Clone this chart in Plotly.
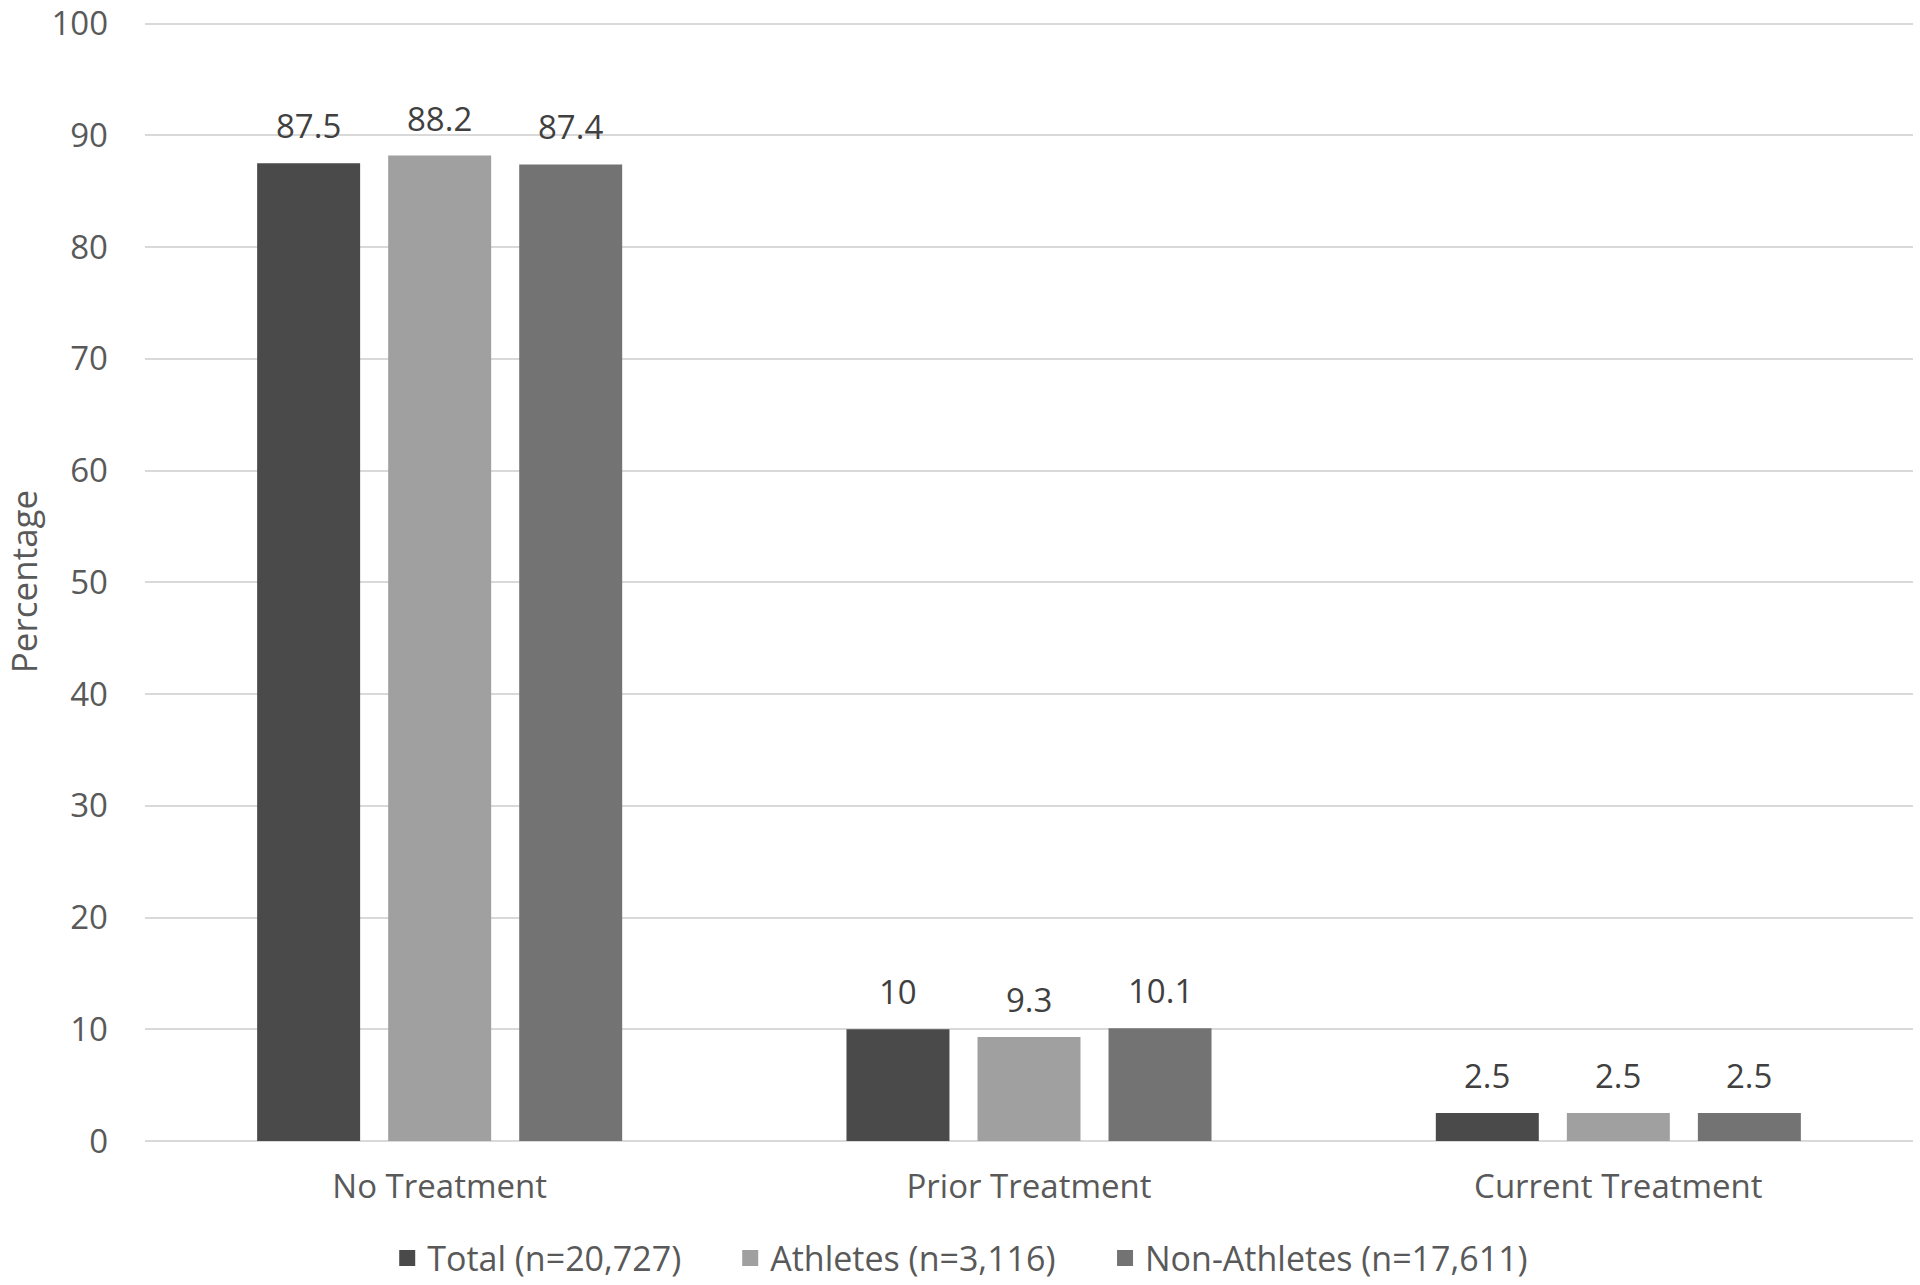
import plotly.graph_objects as go

categories = ["No Treatment", "Prior Treatment", "Current Treatment"]
series_names = ["Total (n=20,727)", "Athletes (n=3,116)", "Non-Athletes (n=17,611)"]
total = [87.5, 10, 2.5]
athletes = [88.2, 9.3, 2.5]
non_athletes = [87.4, 10.1, 2.5]
label_total = ["87.5", "10", "2.5"]
label_athletes = ["88.2", "9.3", "2.5"]
label_non = ["87.4", "10.1", "2.5"]
y_ticks = [0, 10, 20, 30, 40, 50, 60, 70, 80, 90, 100]

colors = ["#4a4a4a", "#a0a0a0", "#737373"]
FONT = "Open Sans"
W, H = 1920, 1285
ML, MR, MT, MB = 145, 7, 22, 144
BARGAP = 0.333
BARGROUPGAP = 0.214
legend_x = [0.137, 0.331, 0.543]

fig = go.Figure()
all_vals = [total, athletes, non_athletes]
all_labels = [label_total, label_athletes, label_non]
for name, vals, col in zip(series_names, all_vals, colors):
    fig.add_trace(go.Bar(x=categories, y=vals, name=name, showlegend=False,
                         marker=dict(color=col, line=dict(width=0))))
legend_ids = ["legend", "legend2", "legend3"]
for name, col, lid in zip(series_names, colors, legend_ids):
    fig.add_trace(go.Scatter(x=[None], y=[None], mode="markers", name=name, legend=lid,
                             marker=dict(symbol="square", size=16, color=col)))

plot_w = W - ML - MR
slot = plot_w / len(categories) * (1 - BARGAP) / len(series_names)
annotations = []
for i, (vals, labs) in enumerate(zip(all_vals, all_labels)):
    for c, v, t in zip(categories, vals, labs):
        annotations.append(dict(x=c, y=v, text=t, showarrow=False, xref="x", yref="y",
                                xshift=(i - 1) * slot, yanchor="bottom", yshift=13,
                                font=dict(family=FONT, size=33, color="#404040")))

legend_common = dict(orientation="h", xanchor="left", y=-0.105, yanchor="middle",
                     font=dict(family=FONT, size=34, color="#595959"), itemwidth=30,
                     bgcolor="rgba(0,0,0,0)")

fig.update_layout(
    width=W, height=H,
    margin=dict(l=ML, r=MR, t=MT, b=MB, pad=0, autoexpand=False),
    paper_bgcolor="white", plot_bgcolor="white",
    barmode="group", bargap=BARGAP, bargroupgap=BARGROUPGAP,
    font=dict(family=FONT, size=33, color="#595959"),
    annotations=annotations,
    legend=dict(x=legend_x[0], **legend_common),
    legend2=dict(x=legend_x[1], **legend_common),
    legend3=dict(x=legend_x[2], **legend_common),
    xaxis=dict(showgrid=False, showline=False, ticks="", automargin=False,
               tickfont=dict(size=33, color="#595959"), ticklabelstandoff=23),
    yaxis=dict(range=[0, 100.15], tickvals=y_ticks, showgrid=True, gridcolor="#d9d9d9", gridwidth=2,
               zeroline=True, zerolinecolor="#d9d9d9", zerolinewidth=2, showline=False,
               automargin=False, ticks="", ticklabelstandoff=36,
               tickfont=dict(size=33, color="#595959"),
               title=dict(text="Percentage", font=dict(size=35, color="#595959"), standoff=24)),
)
fig.write_html("out.html", config={"displayModeBar": False},
               post_script="document.body.style.margin='0';")
